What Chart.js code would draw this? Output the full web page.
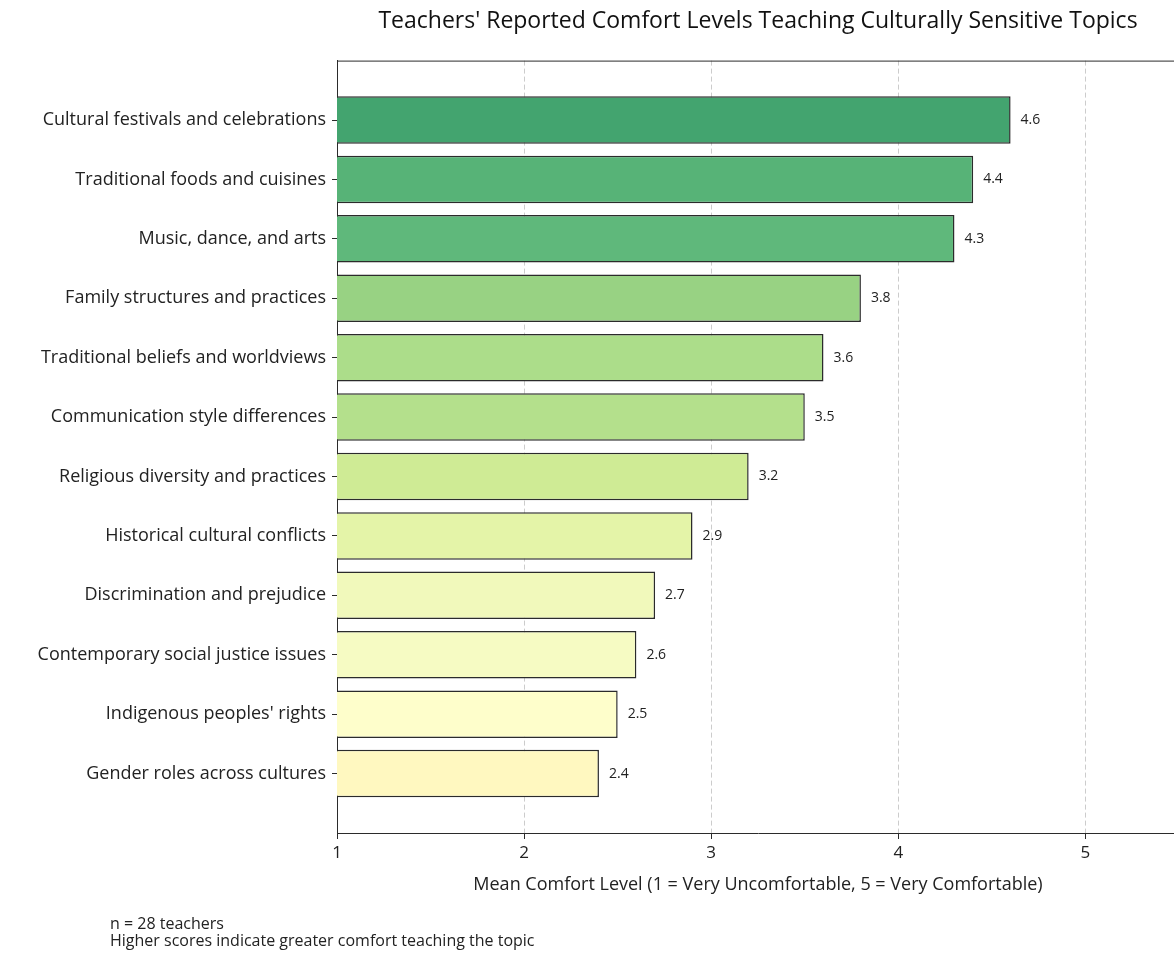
<!DOCTYPE html>
<html>
<head>
<meta charset="utf-8">
<script src="https://cdn.jsdelivr.net/npm/chart.js@4/dist/chart.umd.min.js"></script>
<style>
    html, body { margin: 0; padding: 0; overflow: hidden; background: #fff; }
    #wrap { position: relative; width: 1179px; height: 954px; }
    #note {
        position: absolute; left: 110px; top: 915px;
        font-family: "Open Sans", sans-serif; font-size: 16px; line-height: 17px; color: #222;
    }
</style>
</head>
<body>
<div id="wrap">
    <canvas id="canvas"></canvas>
    <div id="note">n = 28 teachers<br>Higher scores indicate greater comfort teaching the topic</div>
</div>
<script>
// topics, top to bottom
var categories = [
    "Cultural festivals and celebrations",
    "Traditional foods and cuisines",
    "Music, dance, and arts",
    "Family structures and practices",
    "Traditional beliefs and worldviews",
    "Communication style differences",
    "Religious diversity and practices",
    "Historical cultural conflicts",
    "Discrimination and prejudice",
    "Contemporary social justice issues",
    "Indigenous peoples' rights",
    "Gender roles across cultures"
];
var comfortMeans = [4.6, 4.4, 4.3, 3.8, 3.6, 3.5, 3.2, 2.9, 2.7, 2.6, 2.5, 2.4];
var xTicks = [1, 2, 3, 4, 5];

// YlGn-like colours, one per bar
var barColors = ["#43a46f", "#57b377", "#5fb87b", "#98d283", "#acdd8a", "#b4e08c",
    "#cfeb95", "#e4f4a8", "#f1f9bb", "#f6fbc3", "#fefecb", "#fff8c0"];

var fontFamily = "'Open Sans', sans-serif";
var dark = "#2b2b2b";

// value labels at the end of each bar
var valueLabels = {
    id: "valueLabels",
    afterDatasetsDraw: function (chart) {
        var ctx = chart.ctx;
        var meta = chart.getDatasetMeta(0);
        ctx.save();
        ctx.font = "14px " + fontFamily;
        ctx.fillStyle = "#222";
        ctx.textAlign = "left";
        ctx.textBaseline = "middle";
        meta.data.forEach(function (bar, i) {
            ctx.fillText(comfortMeans[i].toFixed(1), bar.x + 10, bar.y);
        });
        ctx.restore();
    }
};

// top spine of the frame
var topSpine = {
    id: "topSpine",
    afterDraw: function (chart) {
        var a = chart.chartArea, ctx = chart.ctx;
        ctx.save();
        ctx.strokeStyle = dark;
        ctx.lineWidth = 1;
        ctx.beginPath();
        ctx.moveTo(a.left, a.top + 0.5);
        ctx.lineTo(a.right, a.top + 0.5);
        ctx.stroke();
        ctx.restore();
    }
};

var ctx = document.getElementById("canvas").getContext("2d");
var myChart = new Chart(ctx, {
    type: "bar",
    data: {
        datasets: [{
            data: comfortMeans.map(function (v, i) { return { x: v, y: i }; }),
            backgroundColor: barColors,
            borderColor: dark,
            borderWidth: 1.5,
            borderSkipped: false,
            categoryPercentage: 1,
            barPercentage: 0.8
        }]
    },
    options: {
        indexAxis: "y",
        responsive: true,
        maintainAspectRatio: false,
        animation: false,
        layout: { padding: { top: 8, left: 0, right: 0, bottom: 54 } },
        plugins: {
            legend: { display: false },
            tooltip: { enabled: false },
            title: {
                display: true,
                text: "Teachers' Reported Comfort Levels Teaching Culturally Sensitive Topics",
                fullSize: false,
                color: "#111",
                font: { family: fontFamily, size: 23, weight: "normal" },
                padding: { top: 0, bottom: 25 }
            }
        },
        scales: {
            x: {
                type: "linear",
                min: 1,
                max: 5.5,
                afterBuildTicks: function (scale) {
                    scale.ticks = xTicks.map(function (v) { return { value: v }; });
                },
                ticks: {
                    color: "#222",
                    padding: 4,
                    font: { family: fontFamily, size: 17 }
                },
                grid: {
                    color: function (c) { return c.tick && c.tick.value === 1 ? "rgba(0,0,0,0)" : "#cccccc"; },
                    tickColor: dark,
                    tickLength: 6,
                    tickBorderDash: []
                },
                border: { color: dark, width: 1, dash: [5, 3] },
                title: {
                    display: true,
                    text: "Mean Comfort Level (1 = Very Uncomfortable, 5 = Very Comfortable)",
                    color: "#222",
                    font: { family: fontFamily, size: 18 },
                    padding: { top: 7, bottom: 4 }
                }
            },
            y: {
                type: "linear",
                min: -1,
                max: 12,
                reverse: true,
                offset: false,
                afterBuildTicks: function (scale) {
                    scale.ticks = categories.map(function (c, i) { return { value: i }; });
                },
                afterFit: function (scale) {
                    scale.width = 337;
                },
                ticks: {
                    color: "#222",
                    padding: 6,
                    autoSkip: false,
                    font: { family: fontFamily, size: 18 },
                    callback: function (v) { return categories[v]; }
                },
                grid: {
                    offset: false,
                    drawOnChartArea: false,
                    tickColor: dark,
                    tickLength: 5
                },
                border: { color: dark, width: 1 }
            }
        }
    },
    plugins: [valueLabels, topSpine]
});
</script>
</body>
</html>
